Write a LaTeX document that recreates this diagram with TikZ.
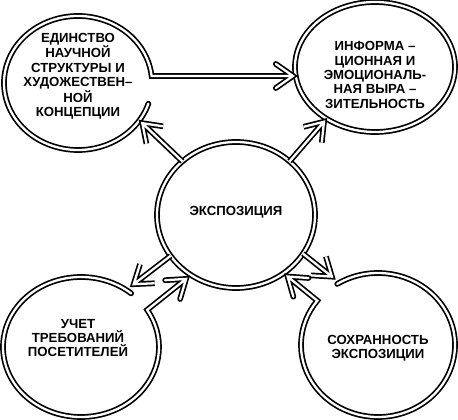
\documentclass[tikz,border=0pt]{standalone}
\usepackage{fontspec}
\setmainfont{Liberation Sans}
\usetikzlibrary{calc,shapes.geometric}

% open arrow head at #1, shaft coming from #2
\newcommand{\head}[2]{($(#1)!21pt!35:(#2)$) -- (#1) -- ($(#1)!21pt!-35:(#2)$)}

\begin{document}
\begin{tikzpicture}[x=1pt, y=1pt,
    ring/.style={ellipse, inner sep=0pt, outer sep=0pt},
    pipe/.style={draw, double, double distance=2.3pt, line width=1.7pt, line join=miter},
    txt/.style={align=center, inner sep=0pt, font=\bfseries\fontsize{13.2}{14.4}\selectfont}
]
\useasboundingbox (0,0) rectangle (458,420);

% rings
\node[ring, minimum width=148pt, minimum height=134pt] (nauka) at (78,337) {};
\node[ring, pipe, minimum width=160pt, minimum height=130pt] (info) at (375,353) {};
\node[ring, pipe, minimum width=158pt, minimum height=146pt] (expo) at (236,205) {};
\node[ring, minimum width=156pt, minimum height=140pt] (uchet) at (81,73) {};
\node[ring, minimum width=154pt, minimum height=144pt] (sohr) at (378,75) {};

% texts
\node[txt] (nauka-t) at ([yshift=7pt]nauka) {ЕДИНСТВО\\НАУЧНОЙ\\СТРУКТУРЫ И\\ХУДОЖЕСТВЕН–\\НОЙ\\КОНЦЕПЦИИ};
\node[txt] (info-t) at ([yshift=-8pt]info) {ИНФОРМА –\\ЦИОННАЯ И\\ЭМОЦИОНАЛЬ-\\НАЯ ВЫРА –\\ЗИТЕЛЬНОСТЬ};
\node[txt] (expo-t) at ([yshift=3pt]expo) {ЭКСПОЗИЦИЯ};
\node[txt] (uchet-t) at ([xshift=-3pt, yshift=9pt]uchet) {УЧЕТ\\ТРЕБОВАНИЙ\\ПОСЕТИТЕЛЕЙ};
\node[txt] (sohr-t) at ([yshift=-3pt]sohr) {СОХРАННОСТЬ\\ЭКСПОЗИЦИИ};

% top left ring, opening into the shaft to the right
\coordinate (hs) at ($(nauka)+(6:74pt and 67pt)$);
\coordinate (ht) at ($(info.west |- hs)+(-2,0)$);
\draw[pipe, line cap=round] ($(nauka)+(-18:74pt and 67pt)$)
    arc[start angle=-18, end angle=-354, x radius=74pt, y radius=67pt] -- (ht) \head{ht}{hs};

% from the centre
\coordinate (t1) at ($(nauka.-32)+(-32:4pt)$);
\coordinate (t2) at ($(info.-133)+(-133:4pt)$);
\coordinate (t3) at ($(uchet.50)+(50:9pt)$);
\coordinate (t4) at ($(sohr.124)+(124:9pt)$);
\draw[pipe] (expo.135) -- (t1) \head{t1}{expo.135};
\draw[pipe] (expo.45) -- (t2) \head{t2}{expo.45};
\draw[pipe] (expo.-148) -- (t3) \head{t3}{expo.-148};
\draw[pipe] (expo.-30) -- (t4) \head{t4}{expo.-30};

% bottom rings back to the centre
\coordinate (s5) at ($(uchet)+(32:78pt and 70pt)$);
\coordinate (t5) at ($(expo.-128)+(-128:6pt)$);
\draw[pipe, line cap=round] ($(uchet)+(50:78pt and 70pt)$)
    arc[start angle=50, end angle=392, x radius=78pt, y radius=70pt] -- (t5) \head{t5}{s5};

\coordinate (s6) at ($(sohr)+(142:77pt and 72pt)$);
\coordinate (t6) at ($(expo.-50)+(-50:5pt)$);
\draw[pipe, line cap=round] ($(sohr)+(122:77pt and 72pt)$)
    arc[start angle=122, end angle=-218, x radius=77pt, y radius=72pt] -- (t6) \head{t6}{s6};
\end{tikzpicture}
\end{document}
